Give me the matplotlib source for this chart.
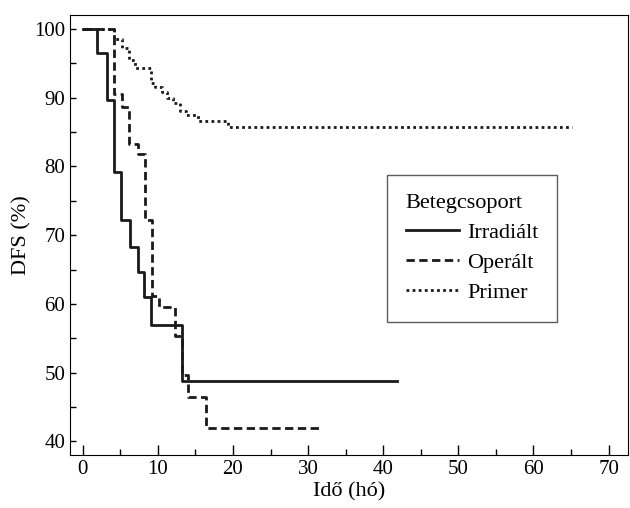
import matplotlib.pyplot as plt
from matplotlib.ticker import MultipleLocator

plt.rcParams['font.family'] = ['Liberation Serif', 'DejaVu Serif']

# Kaplan-Meier step data (time in months, DFS in %)
irr_time = [0, 1.9, 3.3, 4.1, 5.1, 6.3, 7.4, 8.1, 9.1, 13.2, 41.8]
irr_dfs = [100, 96.5, 89.7, 79.2, 72.2, 68.3, 64.6, 61.0, 56.9, 48.8, 48.8]

op_time = [0, 4.1, 5.2, 6.2, 7.3, 8.3, 9.2, 10.2, 12.3, 13.2, 14.0, 16.4, 31.9]
op_dfs = [100, 90.5, 88.6, 83.2, 81.8, 72.2, 61.2, 59.5, 55.4, 49.6, 46.4, 41.9, 41.9]

pr_time = [0, 4.1, 5.2, 6.2, 6.9, 9.1, 9.6, 10.5, 11.2, 12.0, 13.0, 13.8, 15.4, 19.4, 65.1]
pr_dfs = [100, 98.5, 97.2, 95.5, 94.3, 92.2, 91.5, 90.8, 90.0, 89.3, 88.0, 87.5, 86.6, 85.7, 85.7]

labels = ['Irradiált', 'Operált', 'Primer']

fig = plt.figure(figsize=(6.3, 5.08), dpi=100)
ax = fig.add_axes([0.111, 0.104, 0.886, 0.866])

ax.step(irr_time, irr_dfs, where='post', color='#1a1a1a', lw=2.0, ls='-', label=labels[0])
ax.step(op_time, op_dfs, where='post', color='#1a1a1a', lw=2.0, ls=(0, (3, 1.6)), label=labels[1])
ax.step(pr_time, pr_dfs, where='post', color='#1a1a1a', lw=2.0, ls=(0, (1, 1.2)), label=labels[2])

ax.set_xlim(-1.7, 72.6)
ax.set_ylim(38, 102)
ax.xaxis.set_major_locator(MultipleLocator(10))
ax.xaxis.set_minor_locator(MultipleLocator(5))
ax.yaxis.set_major_locator(MultipleLocator(10))
ax.yaxis.set_minor_locator(MultipleLocator(5))
ax.tick_params(which='both', direction='in', labelsize=15, width=1)
ax.tick_params(axis='x', which='major', length=7)
ax.tick_params(axis='x', which='minor', length=4)
ax.tick_params(axis='y', which='both', length=4.5)

ax.set_xlabel('Idő (hó)', fontsize=16, labelpad=2)
ax.set_ylabel('DFS (%)', fontsize=16, labelpad=2)

leg = ax.legend(title='Betegcsoport', loc='upper left', bbox_to_anchor=(0.568, 0.636),
                borderaxespad=0, fontsize=16, title_fontsize=16, frameon=True,
                fancybox=False, edgecolor='#333333', handlelength=2.4,
                handletextpad=0.35, borderpad=0.85, labelspacing=0.42)
leg._legend_box.align = 'left'
leg.get_frame().set_linewidth(1.0)

fig.savefig('out.png', dpi=100)
